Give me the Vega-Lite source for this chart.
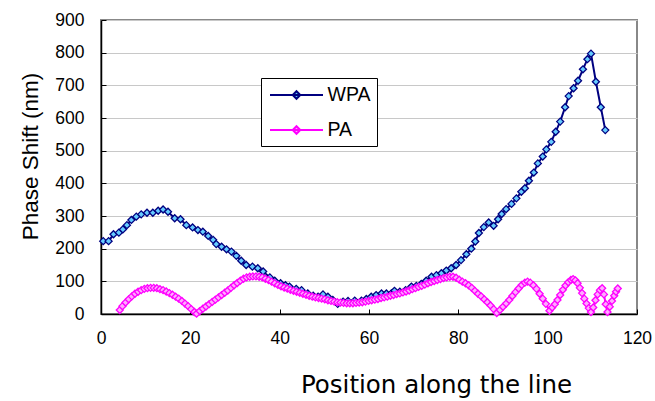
{
  "$schema": "https://vega.github.io/schema/vega-lite/v6.json",
  "width": 536,
  "height": 294,
  "autosize": {"type": "none"},
  "padding": {"left": 101, "top": 20, "right": 18, "bottom": 87},
  "background": "white",
  "config": {
    "view": {"stroke": "#888888", "strokeWidth": 2},
    "font": "Liberation Sans",
    "axis": {"labelFont": "Liberation Sans", "titleFont": "Liberation Sans", "labelColor": "black", "titleColor": "black", "domainColor": "black", "domainWidth": 1.5, "tickColor": "black", "labelFontSize": 17.5, "titleFontSize": 22.5, "titleFontWeight": "normal", "labelFlush": false},
    "legend": {"labelFont": "Liberation Sans"}
  },
  "datasets": {
    "wpa": [
      {"x": 0.5, "y": 223}, {"x": 1.7, "y": 223}, {"x": 2.8, "y": 244}, {"x": 4.0, "y": 249}, {"x": 4.9, "y": 259},
      {"x": 5.8, "y": 272}, {"x": 6.8, "y": 288}, {"x": 7.9, "y": 298}, {"x": 9.0, "y": 305}, {"x": 10.3, "y": 310},
      {"x": 11.6, "y": 310}, {"x": 12.8, "y": 316}, {"x": 13.9, "y": 320}, {"x": 15.0, "y": 313}, {"x": 16.5, "y": 293},
      {"x": 17.8, "y": 290}, {"x": 19.1, "y": 272}, {"x": 20.5, "y": 265}, {"x": 21.7, "y": 257}, {"x": 22.8, "y": 252},
      {"x": 24.0, "y": 239}, {"x": 25.1, "y": 227}, {"x": 25.8, "y": 214}, {"x": 27.0, "y": 206}, {"x": 28.1, "y": 198},
      {"x": 29.2, "y": 191}, {"x": 30.3, "y": 178}, {"x": 31.4, "y": 163}, {"x": 32.5, "y": 150}, {"x": 33.9, "y": 145},
      {"x": 35.1, "y": 140}, {"x": 36.3, "y": 130}, {"x": 37.8, "y": 112}, {"x": 38.9, "y": 102}, {"x": 40.2, "y": 94},
      {"x": 41.3, "y": 88}, {"x": 42.2, "y": 84}, {"x": 43.7, "y": 77}, {"x": 44.9, "y": 73}, {"x": 46.3, "y": 63},
      {"x": 47.5, "y": 56}, {"x": 48.6, "y": 53}, {"x": 49.7, "y": 60}, {"x": 50.8, "y": 53}, {"x": 51.9, "y": 43},
      {"x": 53.0, "y": 31}, {"x": 54.2, "y": 38}, {"x": 55.3, "y": 40}, {"x": 56.8, "y": 41}, {"x": 58.3, "y": 41},
      {"x": 59.4, "y": 46}, {"x": 60.5, "y": 53}, {"x": 61.6, "y": 58}, {"x": 62.8, "y": 63}, {"x": 63.9, "y": 63},
      {"x": 65.0, "y": 63}, {"x": 65.7, "y": 71}, {"x": 66.9, "y": 68}, {"x": 68.2, "y": 73}, {"x": 69.5, "y": 84},
      {"x": 70.6, "y": 86}, {"x": 71.7, "y": 92}, {"x": 72.8, "y": 102}, {"x": 74.0, "y": 114}, {"x": 75.1, "y": 119},
      {"x": 76.2, "y": 125}, {"x": 77.3, "y": 133}, {"x": 78.4, "y": 140}, {"x": 79.5, "y": 150}, {"x": 80.6, "y": 165},
      {"x": 81.8, "y": 183}, {"x": 82.9, "y": 200}, {"x": 83.8, "y": 222}, {"x": 84.6, "y": 248}, {"x": 85.7, "y": 266},
      {"x": 86.8, "y": 280}, {"x": 87.9, "y": 270}, {"x": 88.9, "y": 290}, {"x": 89.7, "y": 306}, {"x": 90.7, "y": 321},
      {"x": 91.9, "y": 337}, {"x": 93.0, "y": 354}, {"x": 94.1, "y": 374}, {"x": 94.9, "y": 385}, {"x": 95.8, "y": 408},
      {"x": 96.9, "y": 433}, {"x": 97.8, "y": 461}, {"x": 98.9, "y": 482}, {"x": 99.7, "y": 504}, {"x": 100.8, "y": 527},
      {"x": 101.8, "y": 558}, {"x": 102.8, "y": 589}, {"x": 103.9, "y": 633}, {"x": 104.7, "y": 667}, {"x": 105.8, "y": 691},
      {"x": 106.8, "y": 714}, {"x": 107.9, "y": 749}, {"x": 108.9, "y": 780}, {"x": 109.7, "y": 797}, {"x": 110.8, "y": 711},
      {"x": 111.9, "y": 633}, {"x": 112.9, "y": 563}
    ],
    "pa": [
      {"x": 4.2, "y": 12}, {"x": 4.8, "y": 24}, {"x": 5.5, "y": 35}, {"x": 6.2, "y": 45}, {"x": 6.9, "y": 54},
      {"x": 7.6, "y": 62}, {"x": 8.3, "y": 68}, {"x": 9.0, "y": 73}, {"x": 9.7, "y": 77}, {"x": 10.4, "y": 79},
      {"x": 11.1, "y": 80}, {"x": 11.8, "y": 80}, {"x": 12.5, "y": 79}, {"x": 13.2, "y": 76}, {"x": 13.9, "y": 73},
      {"x": 14.6, "y": 69}, {"x": 15.3, "y": 64}, {"x": 16.0, "y": 59}, {"x": 16.7, "y": 53}, {"x": 17.4, "y": 47},
      {"x": 18.1, "y": 40}, {"x": 18.8, "y": 32}, {"x": 19.5, "y": 24}, {"x": 20.2, "y": 15}, {"x": 20.9, "y": 6},
      {"x": 21.4, "y": 1}, {"x": 22.1, "y": 9}, {"x": 22.8, "y": 16}, {"x": 23.5, "y": 23}, {"x": 24.2, "y": 30},
      {"x": 24.9, "y": 37}, {"x": 25.6, "y": 44}, {"x": 26.3, "y": 51}, {"x": 27.0, "y": 58}, {"x": 27.7, "y": 65},
      {"x": 28.4, "y": 72}, {"x": 29.1, "y": 80}, {"x": 29.8, "y": 88}, {"x": 30.5, "y": 95}, {"x": 31.2, "y": 102},
      {"x": 31.9, "y": 108}, {"x": 32.6, "y": 112}, {"x": 33.3, "y": 114}, {"x": 34.0, "y": 115}, {"x": 34.7, "y": 115},
      {"x": 35.4, "y": 114}, {"x": 36.1, "y": 112}, {"x": 36.8, "y": 108}, {"x": 37.5, "y": 104}, {"x": 38.2, "y": 99},
      {"x": 38.9, "y": 94}, {"x": 39.6, "y": 89}, {"x": 40.3, "y": 85}, {"x": 41.0, "y": 81}, {"x": 41.7, "y": 78},
      {"x": 42.4, "y": 74}, {"x": 43.1, "y": 71}, {"x": 43.8, "y": 68}, {"x": 44.5, "y": 65}, {"x": 45.2, "y": 62},
      {"x": 45.9, "y": 59}, {"x": 46.6, "y": 56}, {"x": 47.3, "y": 53}, {"x": 48.0, "y": 51}, {"x": 48.7, "y": 49},
      {"x": 49.4, "y": 47}, {"x": 50.1, "y": 45}, {"x": 50.8, "y": 42}, {"x": 51.5, "y": 40}, {"x": 52.2, "y": 38},
      {"x": 52.9, "y": 36}, {"x": 53.6, "y": 35}, {"x": 54.3, "y": 34}, {"x": 55.0, "y": 33}, {"x": 55.7, "y": 33},
      {"x": 56.4, "y": 33}, {"x": 57.1, "y": 34}, {"x": 57.8, "y": 35}, {"x": 58.5, "y": 36}, {"x": 59.2, "y": 38},
      {"x": 59.9, "y": 40}, {"x": 60.6, "y": 42}, {"x": 61.3, "y": 44}, {"x": 62.0, "y": 46}, {"x": 62.7, "y": 49},
      {"x": 63.4, "y": 51}, {"x": 64.1, "y": 53}, {"x": 64.8, "y": 56}, {"x": 65.5, "y": 58}, {"x": 66.2, "y": 61},
      {"x": 66.9, "y": 63}, {"x": 67.6, "y": 66}, {"x": 68.3, "y": 69}, {"x": 69.0, "y": 72}, {"x": 69.7, "y": 76},
      {"x": 70.4, "y": 79}, {"x": 71.1, "y": 83}, {"x": 71.8, "y": 86}, {"x": 72.5, "y": 90}, {"x": 73.2, "y": 94},
      {"x": 73.9, "y": 98}, {"x": 74.6, "y": 101}, {"x": 75.3, "y": 104}, {"x": 76.0, "y": 107}, {"x": 76.7, "y": 110},
      {"x": 77.4, "y": 112}, {"x": 78.1, "y": 114}, {"x": 78.8, "y": 114}, {"x": 79.5, "y": 111}, {"x": 80.2, "y": 105},
      {"x": 80.9, "y": 99}, {"x": 81.6, "y": 94}, {"x": 82.3, "y": 88}, {"x": 83.0, "y": 80}, {"x": 83.7, "y": 71},
      {"x": 84.4, "y": 62}, {"x": 85.1, "y": 54}, {"x": 85.8, "y": 45}, {"x": 86.5, "y": 36}, {"x": 87.2, "y": 26},
      {"x": 87.9, "y": 15}, {"x": 88.6, "y": 3}, {"x": 89.3, "y": 12}, {"x": 90.0, "y": 22}, {"x": 90.7, "y": 32},
      {"x": 91.4, "y": 43}, {"x": 92.1, "y": 55}, {"x": 92.8, "y": 67}, {"x": 93.5, "y": 78}, {"x": 94.2, "y": 89},
      {"x": 94.9, "y": 96}, {"x": 95.5, "y": 99}, {"x": 96.1, "y": 96}, {"x": 96.8, "y": 88}, {"x": 97.5, "y": 77},
      {"x": 98.2, "y": 62}, {"x": 98.9, "y": 47}, {"x": 99.6, "y": 31}, {"x": 100.4, "y": 10}, {"x": 101.0, "y": 20},
      {"x": 101.6, "y": 30}, {"x": 102.2, "y": 43}, {"x": 102.8, "y": 58}, {"x": 103.4, "y": 74}, {"x": 104.0, "y": 87},
      {"x": 104.6, "y": 97}, {"x": 105.2, "y": 104}, {"x": 105.7, "y": 107}, {"x": 106.2, "y": 103}, {"x": 106.7, "y": 94},
      {"x": 107.2, "y": 80}, {"x": 107.7, "y": 64}, {"x": 108.2, "y": 47}, {"x": 108.7, "y": 32}, {"x": 109.2, "y": 18},
      {"x": 109.7, "y": 6}, {"x": 110.2, "y": 20}, {"x": 110.7, "y": 42}, {"x": 111.2, "y": 60}, {"x": 111.7, "y": 73},
      {"x": 112.2, "y": 79}, {"x": 112.6, "y": 60}, {"x": 113.0, "y": 30}, {"x": 113.4, "y": 6}, {"x": 113.9, "y": 22},
      {"x": 114.4, "y": 40}, {"x": 114.9, "y": 56}, {"x": 115.3, "y": 68}, {"x": 115.7, "y": 78}
    ]
  },
  "encoding": {
    "x": {"field": "x", "type": "quantitative", "scale": {"domain": [0, 120], "nice": false, "zero": false},
      "axis": {"values": [0, 20, 40, 60, 80, 100, 120], "grid": false, "tickSize": -5, "labelPadding": 20, "title": "Position along the line", "titleFont": "DejaVu Sans", "titleFontSize": 24.5, "titleX": 335, "titleY": 71, "titleBaseline": "middle", "titleAnchor": "middle", "titleAlign": "center"}},
    "y": {"field": "y", "type": "quantitative", "scale": {"domain": [0, 900], "nice": false},
      "axis": {"values": [0, 100, 200, 300, 400, 500, 600, 700, 800, 900], "grid": true, "gridColor": "#c8c8c8", "gridWidth": 1, "tickSize": -5, "labelPadding": 22, "title": "Phase Shift (nm)", "titleX": -71, "titleY": 136, "titleBaseline": "middle", "titleAlign": "center", "titleAngle": -90}}
  },
  "layer": [
    {
      "data": {"name": "wpa"},
      "transform": [{"calculate": "'WPA'", "as": "series"}],
      "mark": {"type": "line", "strokeWidth": 2},
      "encoding": {
        "stroke": {"field": "series", "type": "nominal",
          "scale": {"domain": ["WPA", "PA"], "range": ["#000080", "#FF00FF"]},
          "legend": {"title": null, "orient": "none", "legendX": 160, "legendY": 58, "strokeColor": "black", "fillColor": "white", "padding": 6,
            "labelFontSize": 19.5, "labelColor": "black", "symbolType": "M-2.65,0L2.65,0M0,-0.38L0.38,0L0,0.38L-0.38,0Z", "symbolSize": 400, "symbolStrokeWidth": 2, "rowPadding": 14, "symbolOffset": 18.5, "labelOffset": 20,
            "encode": {"symbols": {"update": {"fill": {"signal": "datum.value === 'WPA' ? '#66ccff' : '#ffaaff'"}, "fillOpacity": {"value": 1}}}}}}
      }
    },
    {
      "data": {"name": "wpa"},
      "transform": [{"calculate": "'WPA'", "as": "series"}],
      "mark": {"type": "point", "shape": "diamond", "size": 49, "filled": true, "fill": "#66ccff", "strokeWidth": 1.3, "opacity": 1},
      "encoding": {
        "stroke": {"field": "series", "type": "nominal"}
      }
    },
    {
      "data": {"name": "pa"},
      "transform": [{"calculate": "'PA'", "as": "series"}],
      "mark": {"type": "line", "strokeWidth": 2},
      "encoding": {
        "stroke": {"field": "series", "type": "nominal"}
      }
    },
    {
      "data": {"name": "pa"},
      "transform": [{"calculate": "'PA'", "as": "series"}],
      "mark": {"type": "point", "shape": "diamond", "size": 49, "filled": true, "fill": "#ffaaff", "strokeWidth": 1.3, "opacity": 1},
      "encoding": {
        "stroke": {"field": "series", "type": "nominal"}
      }
    }
  ]
}
